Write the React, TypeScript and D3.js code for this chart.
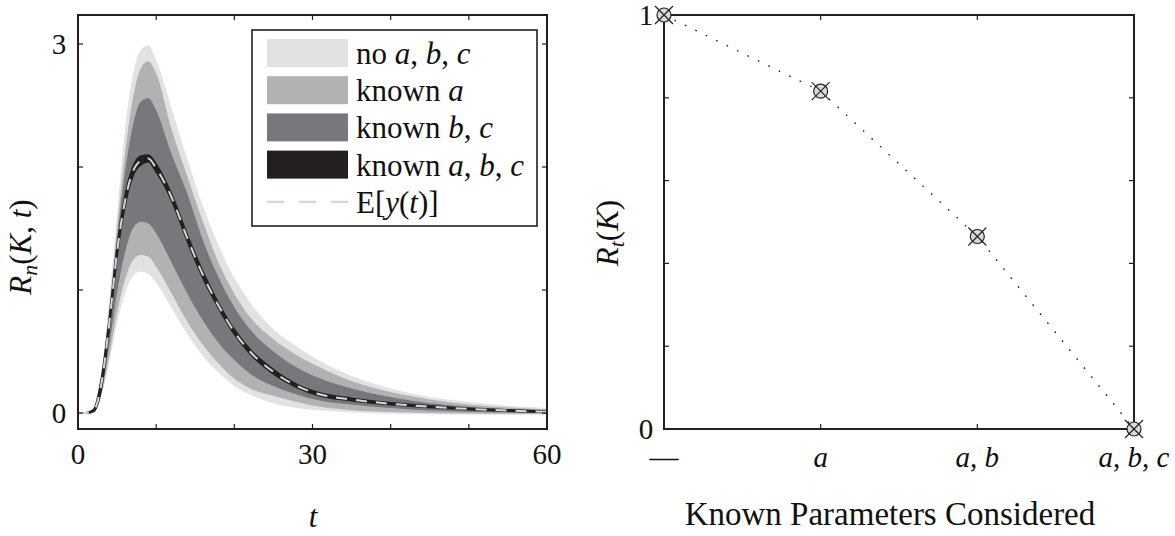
import React from "react";
import * as d3 from "d3";

// ---- Left panel data: R_n(K,t) bands over time t ----
const tVals = [0, 1, 2, 3, 4, 5, 6, 7, 8, 9, 10, 12, 14, 16, 18, 20, 22, 25, 28, 31, 35, 40, 45, 50, 55, 60];
// no a,b,c (lightest band)
const upperNone = [0, 0, 0.03, 0.33, 0.92, 1.62, 2.3, 2.74, 2.95, 2.99, 2.87, 2.47, 2.06, 1.68, 1.36, 1.1, 0.9, 0.68, 0.54, 0.42, 0.3, 0.2, 0.13, 0.09, 0.06, 0.04];
const lowerNone = [0, 0, 0.008, 0.14, 0.41, 0.73, 0.97, 1.11, 1.15, 1.13, 1.06, 0.85, 0.64, 0.46, 0.33, 0.22, 0.15, 0.08, 0.04, 0.02, 0.005, -0.005, -0.01, -0.012, -0.014, -0.015];
// known a
const upperA = [0, 0, 0.025, 0.3, 0.85, 1.5, 2.1, 2.55, 2.8, 2.86, 2.76, 2.3, 1.92, 1.55, 1.22, 0.97, 0.78, 0.6, 0.47, 0.37, 0.26, 0.17, 0.11, 0.07, 0.045, 0.03];
const lowerA = [0, 0, 0.01, 0.16, 0.46, 0.82, 1.08, 1.24, 1.285, 1.27, 1.19, 0.97, 0.74, 0.55, 0.4, 0.28, 0.2, 0.14, 0.09, 0.05, 0.022, 0.008, 0.0, -0.004, -0.006, -0.008];
// known b,c
const upperBC = [0, 0, 0.022, 0.28, 0.8, 1.42, 1.95, 2.33, 2.53, 2.56, 2.46, 2.1, 1.78, 1.4, 1.1, 0.86, 0.68, 0.5, 0.37, 0.28, 0.2, 0.13, 0.08, 0.05, 0.03, 0.022];
const lowerBC = [0, 0, 0.015, 0.19, 0.55, 0.98, 1.3, 1.5, 1.555, 1.54, 1.46, 1.22, 0.97, 0.75, 0.57, 0.43, 0.32, 0.22, 0.15, 0.1, 0.07, 0.04, 0.02, 0.01, 0.004, 0.0];
// known a,b,c (darkest, narrow)
const upperABC = [0, 0, 0.025, 0.27, 0.75, 1.33, 1.75, 1.99, 2.085, 2.095, 2.02, 1.77, 1.44, 1.14, 0.885, 0.675, 0.515, 0.35, 0.23, 0.16, 0.118, 0.08, 0.056, 0.036, 0.023, 0.013];
const lowerABC = [0, 0, 0.015, 0.21, 0.71, 1.29, 1.69, 1.93, 2.02, 2.045, 1.965, 1.73, 1.4, 1.1, 0.855, 0.645, 0.485, 0.32, 0.21, 0.14, 0.102, 0.07, 0.048, 0.03, 0.017, 0.007];
// E[y(t)]
const meanY = [0, 0, 0.02, 0.24, 0.73, 1.31, 1.72, 1.96, 2.05, 2.07, 1.99, 1.75, 1.42, 1.12, 0.87, 0.66, 0.5, 0.335, 0.22, 0.15, 0.11, 0.075, 0.052, 0.033, 0.02, 0.01];

const leftXTicks = [0, 10, 20, 30, 40, 50, 60];
const leftXTickLabels = [0, 30, 60];
const leftYTicks = [0, 1, 2, 3];
const leftYTickLabels = [0, 3];

// ---- Right panel data ----
const knownCats = ["—", "a", "a, b", "a, b, c"];
const rtValues = [1, 0.816, 0.465, 0];
const rightYTicks = [0, 0.2, 0.4, 0.6, 0.8, 1];
const rightYTickLabels = [0, 1];

const COL_NONE = "#e1e2e4";
const COL_A = "#b1b2b4";
const COL_BC = "#77787b";
const COL_ABC = "#231f20";
const AX = "#231f20";
const FONT = "'Liberation Serif', Tinos, 'Noto Serif', 'DejaVu Serif', FreeSerif, 'Nimbus Roman', 'Nimbus Roman No9 L', Times, serif";

const bands = [
  { name: "none", up: upperNone, lo: lowerNone, color: COL_NONE },
  { name: "a", up: upperA, lo: lowerA, color: COL_A },
  { name: "bc", up: upperBC, lo: lowerBC, color: COL_BC },
  { name: "abc", up: upperABC, lo: lowerABC, color: COL_ABC },
];

function MathText({ parts, ...rest }: any) {
  return (
    <text {...rest} fontFamily={FONT}>
      {parts.map((p: any, i: number) =>
        typeof p === "string" ? (
          <tspan key={i}>{p}</tspan>
        ) : (
          <tspan key={i} fontStyle={p.i ? "italic" : "normal"} fontSize={p.s} dy={p.dy}>
            {p.t}
          </tspan>
        )
      )}
    </text>
  );
}

function catParts(c: string) {
  if (c === "—") return ["—"];
  const letters = c.split(", ");
  const out: any[] = [];
  letters.forEach((l, i) => {
    if (i > 0) out.push(", ");
    out.push({ t: l, i: true });
  });
  return out;
}

export default function App() {
  // Left panel geometry
  const L = { x0: 78, x1: 547, y0: 15, y1: 429 };
  const x = d3.scaleLinear().domain([0, 60]).range([L.x0, L.x1]);
  const y = d3.scaleLinear().domain([-0.13, 3.236]).range([L.y1, L.y0]);

  const area = (up: number[], lo: number[]) =>
    d3
      .area<number>()
      .x((_, i) => x(tVals[i]))
      .y0((_, i) => y(lo[i]))
      .y1((_, i) => y(up[i]))
      .curve(d3.curveMonotoneX)(tVals as any) as string;

  const meanLine = d3
    .line<number>()
    .x((_, i) => x(tVals[i]))
    .y((_, i) => y(meanY[i]))
    .curve(d3.curveMonotoneX)(tVals as any) as string;

  // Right panel geometry
  const R = { x0: 664, x1: 1134, y0: 15, y1: 429 };
  const xr = d3.scaleLinear().domain([0, knownCats.length - 1]).range([R.x0, R.x1]);
  const yr = d3.scaleLinear().domain([0, 1]).range([R.y1, R.y0]);
  const rLine = d3
    .line<number>()
    .x((_, i) => xr(i))
    .y((v) => yr(v))(rtValues) as string;

  const tick = 5;

  const legendRows = [
    { color: COL_NONE, parts: ["no ", { t: "a", i: true }, ", ", { t: "b", i: true }, ", ", { t: "c", i: true }] },
    { color: COL_A, parts: ["known ", { t: "a", i: true }] },
    { color: COL_BC, parts: ["known ", { t: "b", i: true }, ", ", { t: "c", i: true }] },
    { color: COL_ABC, parts: ["known ", { t: "a", i: true }, ", ", { t: "b", i: true }, ", ", { t: "c", i: true }] },
  ];
  const legX = 252, legY = 30, legW = 285, legH = 196;
  const rowCY = (i: number) => 53 + i * 37.2;

  return (
    <svg
      width={1175}
      height={536}
      style={{ position: "absolute", left: 0, top: 0, background: "#fff" }}
      fontFamily={FONT}
    >
      {/* ---------- LEFT PANEL ---------- */}
      <defs>
        <clipPath id="clipL">
          <rect x={L.x0} y={L.y0} width={L.x1 - L.x0} height={L.y1 - L.y0} />
        </clipPath>
      </defs>
      <g clipPath="url(#clipL)">
        {bands.map((b) => (
          <path
            key={b.name}
            d={area(b.up, b.lo)}
            fill={b.color}
            stroke={b.name === "abc" ? b.color : "none"}
            strokeWidth={b.name === "abc" ? 2.2 : 0}
          />
        ))}
        <path d={meanLine} fill="none" stroke="#d6d6d6" strokeWidth={2} strokeDasharray="11,9" />
      </g>
      {/* axes box */}
      <rect x={L.x0} y={L.y0} width={L.x1 - L.x0} height={L.y1 - L.y0} fill="none" stroke={AX} strokeWidth={2} />
      {leftXTicks.map((t) => (
        <g key={"lx" + t}>
          <line x1={x(t)} x2={x(t)} y1={L.y1} y2={L.y1 - tick} stroke={AX} strokeWidth={1.2} />
          <line x1={x(t)} x2={x(t)} y1={L.y0} y2={L.y0 + tick} stroke={AX} strokeWidth={1.2} />
        </g>
      ))}
      {leftYTicks.map((v) => (
        <g key={"ly" + v}>
          <line x1={L.x0} x2={L.x0 + tick} y1={y(v)} y2={y(v)} stroke={AX} strokeWidth={1.2} />
          <line x1={L.x1} x2={L.x1 - tick} y1={y(v)} y2={y(v)} stroke={AX} strokeWidth={1.2} />
        </g>
      ))}
      {leftXTickLabels.map((t) => (
        <text key={"lxl" + t} x={x(t)} y={454} fontSize={29} textAnchor="middle" dominantBaseline="central" fill="#111" fontFamily={FONT}>
          {t}
        </text>
      ))}
      {leftYTickLabels.map((v) => (
        <text key={"lyl" + v} x={59} y={y(v)} fontSize={29} textAnchor="middle" dominantBaseline="central" fill="#111" fontFamily={FONT}>
          {v}
        </text>
      ))}
      <text x={313} y={516} fontSize={31} fontStyle="italic" textAnchor="middle" dominantBaseline="central" fill="#111" fontFamily={FONT}>
        t
      </text>
      <MathText
        transform="translate(31,247) rotate(-90)"
        textAnchor="middle"
        fontSize={31}
        fill="#111"
        parts={[
          { t: "R", i: true },
          { t: "n", i: true, s: 22, dy: 6 },
          { t: "(", i: false, dy: -6 },
          { t: "K", i: true },
          ", ",
          { t: "t", i: true },
          ")",
        ]}
      />

      {/* legend */}
      <rect x={legX} y={legY} width={legW} height={legH} fill="#fff" stroke={AX} strokeWidth={1.6} />
      {legendRows.map((r, i) => (
        <g key={"leg" + i}>
          <rect x={267} y={rowCY(i) - 14} width={81} height={28} fill={r.color} />
          <MathText x={356} y={rowCY(i)} dominantBaseline="central" fontSize={31} fill="#111" parts={r.parts} />
        </g>
      ))}
      <line x1={267} x2={348} y1={rowCY(4)} y2={rowCY(4)} stroke="#d6d6d6" strokeWidth={2.2} strokeDasharray="17,15" />
      <MathText
        x={356}
        y={rowCY(4)}
        dominantBaseline="central"
        fontSize={31}
        fill="#111"
        parts={["E[", { t: "y", i: true }, "(", { t: "t", i: true }, ")]"]}
      />

      {/* ---------- RIGHT PANEL ---------- */}
      <rect x={R.x0} y={R.y0} width={R.x1 - R.x0} height={R.y1 - R.y0} fill="none" stroke={AX} strokeWidth={2} />
      {knownCats.map((c, i) => (
        <g key={"rx" + i}>
          <line x1={xr(i)} x2={xr(i)} y1={R.y1} y2={R.y1 - tick} stroke={AX} strokeWidth={1.2} />
          <line x1={xr(i)} x2={xr(i)} y1={R.y0} y2={R.y0 + tick} stroke={AX} strokeWidth={1.2} />
          <MathText
            x={xr(i)}
            y={457}
            fontSize={29}
            textAnchor="middle"
            dominantBaseline="central"
            fill="#111"
            parts={catParts(c)}
          />
        </g>
      ))}
      {rightYTicks.map((v) => (
        <g key={"ry" + v}>
          <line x1={R.x0} x2={R.x0 + tick} y1={yr(v)} y2={yr(v)} stroke={AX} strokeWidth={1.2} />
          <line x1={R.x1} x2={R.x1 - tick} y1={yr(v)} y2={yr(v)} stroke={AX} strokeWidth={1.2} />
        </g>
      ))}
      {rightYTickLabels.map((v) => (
        <text key={"ryl" + v} x={646} y={yr(v)} fontSize={29} textAnchor="middle" dominantBaseline="central" fill="#111" fontFamily={FONT}>
          {v}
        </text>
      ))}
      <path d={rLine} fill="none" stroke="#222" strokeWidth={1.4} strokeDasharray="1.6,10" />
      {rtValues.map((v, i) => {
        const cx = xr(i), cy = yr(v);
        return (
          <g key={"m" + i}>
            <circle cx={cx} cy={cy} r={7} fill="#d9d9d9" stroke="#222" strokeWidth={1.2} />
            <line x1={cx - 9} y1={cy - 9} x2={cx + 9} y2={cy + 9} stroke="#222" strokeWidth={1.2} />
            <line x1={cx - 9} y1={cy + 9} x2={cx + 9} y2={cy - 9} stroke="#222" strokeWidth={1.2} />
          </g>
        );
      })}
      <MathText
        transform="translate(618,233) rotate(-90)"
        textAnchor="middle"
        fontSize={31}
        fill="#111"
        parts={[{ t: "R", i: true }, { t: "t", i: true, s: 22, dy: 6 }, { t: "(", i: false, dy: -6 }, { t: "K", i: true }, ")"]}
      />
      <text x={890} y={514} fontSize={33} textAnchor="middle" dominantBaseline="central" fill="#111" fontFamily={FONT}>
        Known Parameters Considered
      </text>
    </svg>
  );
}
